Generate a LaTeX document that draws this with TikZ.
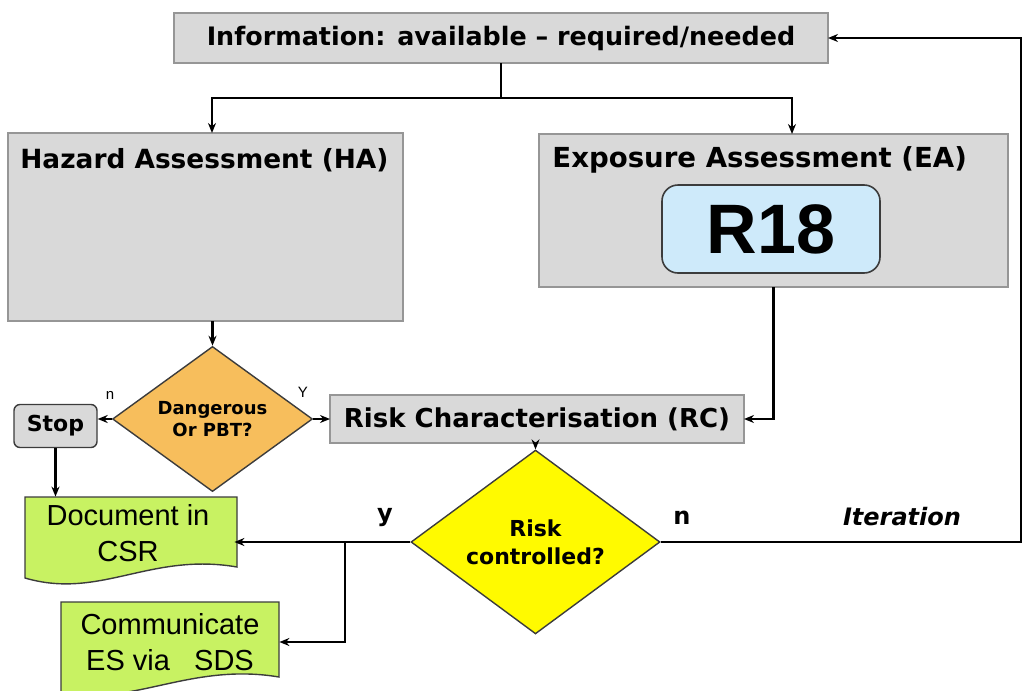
\documentclass[tikz,border=0pt]{standalone}
\usepackage{fontspec}
\setmainfont{Liberation Sans}
\newfontfamily\lblfont{DejaVu Sans}
\usetikzlibrary{shapes.geometric,arrows.meta,calc}
\definecolor{boxgray}{RGB}{217,217,217}
\definecolor{bordergray}{RGB}{150,150,150}
\definecolor{r18blue}{RGB}{206,234,250}
\definecolor{dangorange}{RGB}{247,190,92}
\definecolor{riskyellow}{RGB}{255,250,0}
\definecolor{docgreen}{RGB}{200,242,98}
\definecolor{edgedark}{RGB}{60,60,60}
\begin{document}
\begin{tikzpicture}[x=0.5pt,y=-0.5pt,
  conn/.style={line width=1.35pt,draw=black},
  arr/.style={conn,-{Stealth[length=5pt,width=4pt]}},
  graybox/.style={draw=bordergray,line width=0.7pt,fill=boxgray,inner sep=0pt,outer sep=0pt},
  boldlbl/.style={font=\lblfont\bfseries},
  docshape/.style={draw=edgedark,line width=0.7pt,fill=docgreen},
  doctext/.style={font=\fontsize{14.5}{18}\selectfont,align=center,inner sep=0pt},
  ]
\useasboundingbox (0,0) rectangle (1024,691);
\clip (0,0) rectangle (1024,691);

% document-shaped boxes (drawn first, texts placed on top)
\draw[docshape] (25,497) -- (237,497) -- (237,567)
  .. controls (150,552) and (100,600) .. (25,578) -- cycle;
\draw[docshape] (61,602) -- (279,602) -- (279,677)
  .. controls (190,662) and (130,708) .. (61,692) -- cycle;

% nodes
\node[graybox,minimum width=327pt,minimum height=25pt,
  font=\lblfont\bfseries\fontsize{12.7}{15}\selectfont] (info) at (501,38)
  {Information: available \textendash{} required/needed};
\node[graybox,minimum width=197.5pt,minimum height=94pt] (ha) at (205.5,227) {};
\node[boldlbl,font=\lblfont\bfseries\fontsize{13.2}{16}\selectfont,anchor=west,inner sep=0pt] (hatitle) at (20,160) {Hazard Assessment (HA)};
\node[graybox,minimum width=234.5pt,minimum height=76.5pt] (ea) at (773.5,210.5) {};
\node[boldlbl,font=\lblfont\bfseries\fontsize{13.8}{16}\selectfont,anchor=west,inner sep=0pt] (eatitle) at (552,160) {Exposure Assessment (EA)};
\node[draw=edgedark,line width=0.8pt,fill=r18blue,rounded corners=8pt,
  minimum width=109pt,minimum height=44pt,inner sep=0pt,
  font=\bfseries\fontsize{35}{40}\selectfont] (r18) at (771,229) {R18};
\node[graybox,minimum width=207pt,minimum height=24pt,
  font=\lblfont\bfseries\fontsize{13}{15}\selectfont] (rc) at (537,419)
  {Risk Characterisation (RC)};
\node[diamond,draw=edgedark,line width=0.7pt,fill=dangorange,
  minimum width=100pt,minimum height=51pt,inner sep=0pt,align=center,
  font=\lblfont\bfseries\fontsize{9}{11}\selectfont] (dang) at (212.5,419)
  {Dangerous\\Or PBT?};
\node[draw=edgedark,line width=0.7pt,fill=boxgray,rounded corners=3pt,
  minimum width=41.5pt,minimum height=21.5pt,inner sep=0pt,
  font=\lblfont\bfseries\fontsize{11}{13}\selectfont] (stop) at (55.5,426)
  {Stop};
\node[diamond,draw=edgedark,line width=0.7pt,fill=riskyellow,
  minimum width=124.5pt,minimum height=77.5pt,inner sep=0pt,align=center,
  font=\lblfont\bfseries\fontsize{11}{14}\selectfont] (risk) at (535.5,542)
  {Risk\\controlled?};
\node[doctext,minimum width=106pt,minimum height=36pt] (doc) at (128,533)
  {Document in\\CSR};
\node[doctext,minimum width=109pt,minimum height=43pt] (comm) at (170,642)
  {Communicate\\ES via\ \ \ SDS};

% small labels
\node[font=\fontsize{7.5}{9}\selectfont,inner sep=0pt] (lbln1) at (110,395) {n};
\node[font=\fontsize{7.5}{9}\selectfont,inner sep=0pt] (lbly1) at (303,392) {Y};
\node[boldlbl,font=\lblfont\bfseries\fontsize{12}{14}\selectfont,inner sep=0pt] (lbly2) at (385,518) {y};
\node[boldlbl,font=\lblfont\bfseries\fontsize{12}{14}\selectfont,inner sep=0pt] (lbln2) at (682,518) {n};
\node[font=\lblfont\bfseries\itshape\fontsize{12}{14}\selectfont,inner sep=0pt] (iter) at (902,517) {Iteration};

% helper coordinates
\coordinate (j) at (501,98);
\coordinate (branch) at (345,542);
\coordinate (redge) at (1021,0);

% connectors
\draw[conn] (info.south) -- (j);
\draw[arr] (j) -| ($(ha.north)+(6.5,0)$);
\draw[arr] (j) -| ($(ea.north)+(18.5,0)$);
\draw[arr] (ea.south) |- (rc.east);
\draw[arr] (ha.south -| dang.north) -- (dang.north);
\draw[arr] (dang.west) -- (dang.west -| stop.east);
\draw[arr] (dang.east) -- (rc.west);
\draw[arr] (stop.south) -- (stop.south |- doc.north);
\draw[arr] (rc.south -| risk.north) -- (risk.north);
\draw[arr] (risk.west) -- (risk.west -| doc.east);
\draw[arr] (branch) |- (comm.east);
\draw[arr] (risk.east) -- (risk.east -| redge) |- (info.east);
\end{tikzpicture}
\end{document}
